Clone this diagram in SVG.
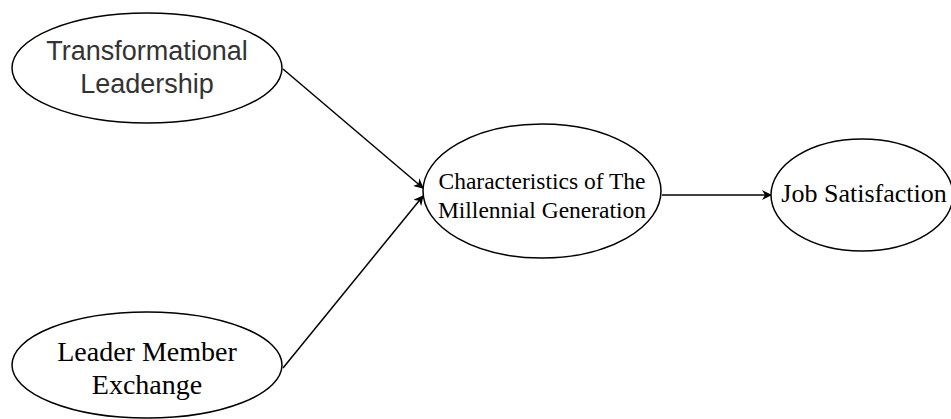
<svg xmlns="http://www.w3.org/2000/svg" width="951" height="419" viewBox="0 0 951 419">
<defs>
<style>
.node{fill:#fff;stroke:#000;stroke-width:1.5}
.sans{font-family:"Liberation Sans",Arial,sans-serif;fill:#333;text-anchor:middle}
.serif{font-family:"Liberation Serif","Times New Roman",serif;fill:#000;text-anchor:middle}
.edge{stroke:#000;stroke-width:1.5;fill:none}
</style>
<marker id="arr" viewBox="0 0 10 10" refX="9" refY="5" markerWidth="10" markerHeight="10" markerUnits="userSpaceOnUse" orient="auto">
<path d="M0,0 L10,5 L0,10 L3,5 Z" fill="#000"/>
</marker>
</defs>
<rect width="951" height="419" fill="#fff"/>
<g id="edges">
<line class="edge" x1="283" y1="69" x2="423" y2="188" marker-end="url(#arr)"/>
<line class="edge" x1="283" y1="368" x2="423" y2="196" marker-end="url(#arr)"/>
<line class="edge" x1="662" y1="195" x2="771" y2="195" marker-end="url(#arr)"/>
</g>
<g id="n1">
<ellipse class="node" cx="147" cy="68" rx="135" ry="55"/>
<text class="sans" font-size="27" x="147" y="60">Transformational</text>
<text class="sans" font-size="27" x="147" y="93">Leadership</text>
</g>
<g id="n2">
<ellipse class="node" cx="147" cy="365" rx="135" ry="53"/>
<text class="serif" font-size="28" x="147" y="361">Leader Member</text>
<text class="serif" font-size="28" x="147" y="394">Exchange</text>
</g>
<g id="n3">
<ellipse class="node" cx="542" cy="191" rx="119" ry="67"/>
<text class="serif" font-size="23.5" x="542" y="189">Characteristics of The</text>
<text class="serif" font-size="23.5" x="542" y="218">Millennial Generation</text>
</g>
<g id="n4">
<ellipse class="node" cx="862" cy="195" rx="91" ry="56"/>
<text class="serif" font-size="26" x="864" y="202">Job Satisfaction</text>
</g>
</svg>
